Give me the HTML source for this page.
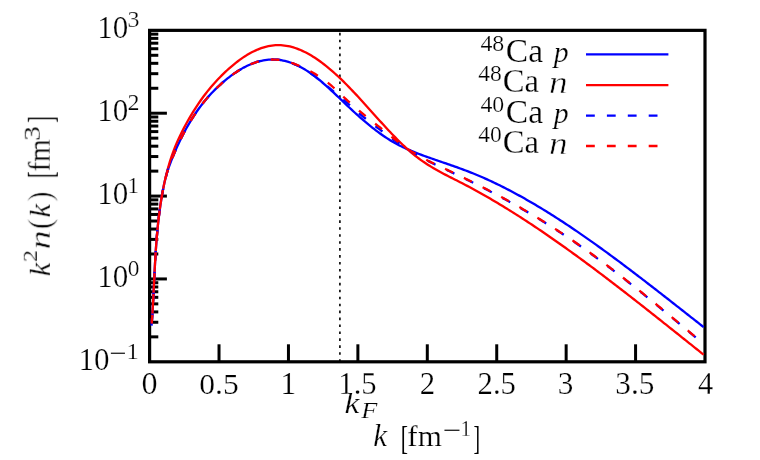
<!DOCTYPE html>
<html>
<head>
<meta charset="utf-8">
<title>k^2 n(k)</title>
<style>
  html, body { margin: 0; padding: 0; background: #ffffff; }
  body { width: 760px; height: 460px; overflow: hidden; font-family: "Liberation Serif", serif; }
  svg { display: block; }
  text { font-family: "Liberation Serif", serif; fill: #000000; stroke: #ffffff; stroke-linejoin: round; }
</style>
</head>
<body>
<svg width="760" height="460" viewBox="0 0 760 460">
<rect x="0" y="0" width="760" height="460" fill="#ffffff"/>
<!-- kF dotted line -->
<line x1="339.9" y1="361.8" x2="339.9" y2="30.35" stroke="#000000" stroke-width="1.6" stroke-dasharray="2.6 4.345"/>
<!-- ticks -->
<g stroke="#000000" stroke-width="3.0">
<line x1="149.6" y1="336.86" x2="158.29999999999998" y2="336.86"/>
<line x1="149.6" y1="322.26" x2="158.29999999999998" y2="322.26"/>
<line x1="149.6" y1="311.91" x2="158.29999999999998" y2="311.91"/>
<line x1="149.6" y1="303.88" x2="158.29999999999998" y2="303.88"/>
<line x1="149.6" y1="297.32" x2="158.29999999999998" y2="297.32"/>
<line x1="149.6" y1="291.77" x2="158.29999999999998" y2="291.77"/>
<line x1="149.6" y1="286.97" x2="158.29999999999998" y2="286.97"/>
<line x1="149.6" y1="282.73" x2="158.29999999999998" y2="282.73"/>
<line x1="149.6" y1="278.94" x2="166.9" y2="278.94"/>
<line x1="149.6" y1="253.99" x2="158.29999999999998" y2="253.99"/>
<line x1="149.6" y1="239.40" x2="158.29999999999998" y2="239.40"/>
<line x1="149.6" y1="229.05" x2="158.29999999999998" y2="229.05"/>
<line x1="149.6" y1="221.02" x2="158.29999999999998" y2="221.02"/>
<line x1="149.6" y1="214.46" x2="158.29999999999998" y2="214.46"/>
<line x1="149.6" y1="208.91" x2="158.29999999999998" y2="208.91"/>
<line x1="149.6" y1="204.11" x2="158.29999999999998" y2="204.11"/>
<line x1="149.6" y1="199.87" x2="158.29999999999998" y2="199.87"/>
<line x1="149.6" y1="196.08" x2="166.9" y2="196.08"/>
<line x1="149.6" y1="171.13" x2="158.29999999999998" y2="171.13"/>
<line x1="149.6" y1="156.54" x2="158.29999999999998" y2="156.54"/>
<line x1="149.6" y1="146.19" x2="158.29999999999998" y2="146.19"/>
<line x1="149.6" y1="138.16" x2="158.29999999999998" y2="138.16"/>
<line x1="149.6" y1="131.60" x2="158.29999999999998" y2="131.60"/>
<line x1="149.6" y1="126.05" x2="158.29999999999998" y2="126.05"/>
<line x1="149.6" y1="121.24" x2="158.29999999999998" y2="121.24"/>
<line x1="149.6" y1="117.00" x2="158.29999999999998" y2="117.00"/>
<line x1="149.6" y1="113.21" x2="166.9" y2="113.21"/>
<line x1="149.6" y1="88.27" x2="158.29999999999998" y2="88.27"/>
<line x1="149.6" y1="73.68" x2="158.29999999999998" y2="73.68"/>
<line x1="149.6" y1="63.32" x2="158.29999999999998" y2="63.32"/>
<line x1="149.6" y1="55.29" x2="158.29999999999998" y2="55.29"/>
<line x1="149.6" y1="48.73" x2="158.29999999999998" y2="48.73"/>
<line x1="149.6" y1="43.19" x2="158.29999999999998" y2="43.19"/>
<line x1="149.6" y1="38.38" x2="158.29999999999998" y2="38.38"/>
<line x1="149.6" y1="34.14" x2="158.29999999999998" y2="34.14"/>
<line x1="219.02" y1="361.8" x2="219.02" y2="344.3"/>
<line x1="288.45" y1="361.8" x2="288.45" y2="344.3"/>
<line x1="357.88" y1="361.8" x2="357.88" y2="344.3"/>
<line x1="427.30" y1="361.8" x2="427.30" y2="344.3"/>
<line x1="496.73" y1="361.8" x2="496.73" y2="344.3"/>
<line x1="566.15" y1="361.8" x2="566.15" y2="344.3"/>
<line x1="635.57" y1="361.8" x2="635.57" y2="344.3"/>
</g>
<!-- frame -->
<rect x="149.6" y="30.35" width="555.4" height="331.45" fill="none" stroke="#000000" stroke-width="3.2"/>
<!-- curves -->
<g fill="none" stroke-width="2.3" stroke-linejoin="round" stroke-linecap="butt">
<path stroke="#0000ff" d="M151.56,325.60 L151.76,322.93 L151.95,320.26 L152.13,317.59 L152.31,314.92 L152.48,312.24 L152.64,309.57 L152.79,306.90 L152.94,304.23 L153.09,301.56 L153.23,298.89 L153.37,296.22 L153.51,293.55 L153.64,290.87 L153.77,288.20 L153.90,285.53 L154.03,282.86 L154.16,280.19 L154.29,277.52 L154.42,274.85 L154.56,272.18 L154.70,269.51 L154.84,266.83 L154.98,264.16 L155.13,261.49 L155.28,258.82 L155.44,256.15 L155.61,253.48 L155.78,250.81 L155.96,248.14 L156.15,245.46 L156.35,242.79 L156.55,240.12 L156.77,237.45 L157.00,234.78 L157.23,232.11 L157.48,229.44 L157.75,226.77 L158.02,224.09 L158.31,221.42 L158.62,218.75 L158.93,216.08 L159.27,213.41 L159.62,210.74 L159.98,208.07 L160.37,205.40 L160.77,202.73 L161.19,200.05 L161.63,197.38 L162.09,194.71 L162.57,192.04 L163.07,189.37 L163.60,186.70 L164.15,184.03 L164.77,181.36 L165.43,178.68 L166.13,176.01 L166.87,173.34 L167.66,170.67 L168.48,168.00 L170.27,163.25 L172.06,158.68 L173.85,154.30 L175.64,150.09 L177.43,146.06 L179.22,142.19 L181.01,138.49 L182.80,134.95 L184.59,131.55 L186.38,128.27 L188.17,125.12 L189.96,122.08 L191.75,119.16 L193.54,116.34 L195.33,113.63 L197.12,111.02 L198.91,108.51 L200.70,106.10 L202.49,103.77 L204.28,101.53 L206.07,99.37 L207.86,97.29 L209.65,95.28 L211.44,93.34 L213.23,91.47 L215.02,89.66 L216.81,87.91 L218.60,86.21 L220.39,84.57 L222.18,82.97 L223.97,81.41 L225.76,79.91 L227.55,78.45 L229.34,77.05 L231.13,75.69 L232.92,74.38 L234.71,73.12 L236.50,71.92 L238.29,70.77 L240.08,69.66 L241.87,68.62 L243.66,67.62 L245.45,66.68 L247.24,65.80 L249.03,64.97 L250.82,64.19 L252.61,63.48 L254.40,62.82 L256.19,62.22 L257.98,61.68 L259.77,61.19 L261.56,60.77 L263.35,60.41 L265.14,60.11 L266.93,59.87 L268.72,59.69 L270.51,59.57 L272.30,59.52 L274.09,59.54 L275.88,59.61 L277.67,59.76 L279.46,59.96 L281.25,60.23 L283.04,60.57 L284.83,60.96 L286.62,61.42 L288.41,61.94 L290.20,62.52 L291.99,63.15 L293.78,63.85 L295.57,64.61 L297.36,65.43 L299.15,66.30 L300.94,67.23 L302.73,68.22 L304.52,69.26 L306.31,70.36 L308.10,71.51 L309.89,72.71 L311.68,73.97 L313.47,75.29 L315.26,76.64 L317.05,78.05 L318.84,79.49 L320.63,80.98 L322.42,82.50 L324.21,84.05 L326.00,85.63 L327.79,87.24 L329.58,88.88 L331.37,90.53 L333.16,92.20 L334.95,93.88 L336.75,95.58 L338.54,97.28 L340.33,98.99 L342.12,100.70 L343.91,102.41 L345.70,104.12 L347.49,105.81 L349.28,107.50 L351.07,109.18 L352.86,110.83 L354.65,112.48 L356.44,114.10 L358.23,115.71 L360.02,117.30 L361.81,118.86 L363.60,120.41 L365.39,121.93 L367.18,123.43 L368.97,124.91 L370.76,126.36 L372.55,127.79 L374.34,129.19 L376.13,130.56 L377.92,131.90 L379.71,133.22 L381.50,134.50 L383.29,135.75 L385.08,136.97 L386.87,138.16 L388.66,139.31 L390.45,140.42 L392.24,141.50 L394.03,142.55 L395.82,143.55 L397.61,144.52 L399.40,145.45 L401.19,146.34 L402.98,147.21 L404.77,148.04 L406.56,148.85 L408.35,149.63 L410.14,150.39 L411.93,151.14 L413.72,151.86 L415.51,152.57 L417.30,153.27 L419.09,153.96 L420.88,154.64 L422.67,155.30 L424.46,155.96 L426.25,156.61 L428.04,157.26 L429.83,157.89 L431.62,158.52 L433.41,159.15 L435.20,159.77 L436.99,160.39 L438.78,161.00 L440.57,161.62 L442.36,162.23 L444.15,162.84 L445.94,163.46 L447.73,164.07 L449.52,164.69 L451.31,165.31 L453.10,165.93 L454.89,166.56 L456.68,167.20 L458.47,167.84 L460.26,168.49 L462.05,169.14 L463.84,169.81 L465.63,170.48 L467.42,171.16 L469.21,171.86 L471.00,172.56 L472.79,173.28 L474.58,174.01 L476.37,174.75 L478.16,175.50 L479.95,176.26 L481.74,177.03 L483.53,177.82 L485.32,178.61 L487.11,179.42 L488.90,180.23 L490.69,181.06 L492.48,181.90 L494.27,182.74 L496.06,183.60 L497.85,184.47 L499.64,185.34 L501.43,186.23 L503.22,187.13 L505.01,188.03 L506.80,188.95 L508.59,189.87 L510.38,190.81 L512.17,191.75 L513.96,192.70 L515.75,193.67 L517.54,194.64 L519.33,195.62 L521.12,196.61 L522.91,197.61 L524.70,198.61 L526.49,199.63 L528.28,200.65 L530.07,201.68 L531.86,202.72 L533.65,203.77 L535.44,204.83 L537.23,205.90 L539.02,206.97 L540.81,208.05 L542.60,209.14 L544.39,210.23 L546.18,211.34 L547.97,212.45 L549.76,213.57 L551.55,214.69 L553.34,215.82 L555.13,216.96 L556.92,218.11 L558.71,219.27 L560.50,220.43 L562.29,221.59 L564.08,222.77 L565.87,223.95 L567.66,225.14 L569.45,226.33 L571.24,227.53 L573.03,228.73 L574.82,229.95 L576.61,231.16 L578.40,232.39 L580.19,233.62 L581.98,234.85 L583.77,236.09 L585.56,237.34 L587.35,238.59 L589.14,239.85 L590.93,241.11 L592.72,242.38 L594.51,243.65 L596.30,244.93 L598.09,246.21 L599.88,247.50 L601.67,248.79 L603.46,250.09 L605.25,251.39 L607.04,252.69 L608.83,254.00 L610.62,255.32 L612.41,256.63 L614.20,257.96 L615.99,259.28 L617.78,260.61 L619.57,261.95 L621.36,263.28 L623.15,264.62 L624.94,265.97 L626.73,267.32 L628.52,268.67 L630.31,270.02 L632.10,271.38 L633.89,272.74 L635.68,274.10 L637.47,275.47 L639.26,276.84 L641.05,278.21 L642.84,279.58 L644.63,280.96 L646.42,282.34 L648.21,283.72 L650.00,285.10 L651.79,286.49 L653.58,287.87 L655.37,289.26 L657.16,290.65 L658.95,292.04 L660.74,293.44 L662.53,294.83 L664.32,296.23 L666.11,297.63 L667.90,299.03 L669.69,300.43 L671.48,301.83 L673.27,303.23 L675.06,304.64 L676.85,306.04 L678.64,307.45 L680.43,308.85 L682.22,310.26 L684.01,311.67 L685.80,313.07 L687.59,314.48 L689.38,315.89 L691.17,317.30 L692.96,318.70 L694.75,320.11 L696.54,321.52 L698.33,322.92 L700.12,324.33 L701.91,325.73 L703.70,327.14"/>
<path stroke="#ff0000" d="M151.80,322.40 L151.98,319.78 L152.16,317.17 L152.33,314.55 L152.50,311.93 L152.65,309.32 L152.81,306.70 L152.95,304.08 L153.10,301.46 L153.23,298.85 L153.37,296.23 L153.50,293.61 L153.63,291.00 L153.76,288.38 L153.89,285.76 L154.02,283.15 L154.14,280.53 L154.27,277.91 L154.40,275.29 L154.53,272.68 L154.67,270.06 L154.80,267.44 L154.94,264.83 L155.09,262.21 L155.24,259.59 L155.39,256.98 L155.55,254.36 L155.72,251.74 L155.89,249.13 L156.07,246.51 L156.26,243.89 L156.46,241.27 L156.67,238.66 L156.89,236.04 L157.12,233.42 L157.35,230.81 L157.61,228.19 L157.87,225.57 L158.14,222.96 L158.43,220.34 L158.74,217.72 L159.05,215.11 L159.39,212.49 L159.74,209.87 L160.10,207.25 L160.48,204.64 L160.88,202.02 L161.30,199.40 L161.73,196.79 L162.19,194.17 L162.66,191.55 L163.16,188.94 L163.67,186.32 L164.21,183.70 L164.78,181.08 L165.37,178.47 L165.99,175.85 L166.63,173.23 L167.31,170.62 L168.01,168.00 L169.80,161.90 L171.59,156.35 L173.39,151.30 L175.18,146.68 L176.97,142.41 L178.76,138.44 L180.55,134.70 L182.34,131.11 L184.13,127.65 L185.93,124.29 L187.72,121.04 L189.51,117.89 L191.30,114.84 L193.09,111.89 L194.88,109.04 L196.68,106.27 L198.47,103.59 L200.26,101.00 L202.05,98.49 L203.84,96.05 L205.63,93.70 L207.43,91.41 L209.22,89.20 L211.01,87.05 L212.80,84.97 L214.59,82.95 L216.38,80.99 L218.18,79.08 L219.97,77.22 L221.76,75.41 L223.55,73.65 L225.34,71.94 L227.13,70.27 L228.92,68.64 L230.72,67.06 L232.51,65.53 L234.30,64.05 L236.09,62.62 L237.88,61.24 L239.67,59.91 L241.47,58.63 L243.26,57.40 L245.05,56.22 L246.84,55.10 L248.63,54.04 L250.42,53.03 L252.22,52.08 L254.01,51.18 L255.80,50.35 L257.59,49.57 L259.38,48.85 L261.17,48.19 L262.97,47.60 L264.76,47.06 L266.55,46.59 L268.34,46.19 L270.13,45.84 L271.92,45.57 L273.72,45.36 L275.51,45.21 L277.30,45.14 L279.09,45.13 L280.88,45.19 L282.67,45.32 L284.46,45.52 L286.26,45.78 L288.05,46.10 L289.84,46.49 L291.63,46.93 L293.42,47.44 L295.21,48.01 L297.01,48.63 L298.80,49.32 L300.59,50.06 L302.38,50.85 L304.17,51.70 L305.96,52.59 L307.76,53.55 L309.55,54.55 L311.34,55.60 L313.13,56.70 L314.92,57.84 L316.71,59.03 L318.51,60.27 L320.30,61.55 L322.09,62.88 L323.88,64.24 L325.67,65.65 L327.46,67.09 L329.25,68.57 L331.05,70.09 L332.84,71.65 L334.63,73.24 L336.42,74.87 L338.21,76.52 L340.00,78.21 L341.80,79.93 L343.59,81.68 L345.38,83.46 L347.17,85.26 L348.96,87.09 L350.75,88.95 L352.55,90.83 L354.34,92.73 L356.13,94.64 L357.92,96.58 L359.71,98.53 L361.50,100.49 L363.30,102.46 L365.09,104.45 L366.88,106.44 L368.67,108.43 L370.46,110.43 L372.25,112.43 L374.04,114.43 L375.84,116.43 L377.63,118.42 L379.42,120.41 L381.21,122.38 L383.00,124.35 L384.79,126.30 L386.59,128.24 L388.38,130.17 L390.17,132.07 L391.96,133.96 L393.75,135.82 L395.54,137.66 L397.34,139.47 L399.13,141.26 L400.92,143.02 L402.71,144.74 L404.50,146.43 L406.29,148.08 L408.09,149.70 L409.88,151.28 L411.67,152.81 L413.46,154.30 L415.25,155.75 L417.04,157.15 L418.83,158.50 L420.63,159.81 L422.42,161.08 L424.21,162.31 L426.00,163.51 L427.79,164.67 L429.58,165.79 L431.38,166.89 L433.17,167.96 L434.96,169.01 L436.75,170.03 L438.54,171.03 L440.33,172.01 L442.13,172.97 L443.92,173.92 L445.71,174.86 L447.50,175.78 L449.29,176.70 L451.08,177.61 L452.88,178.52 L454.67,179.43 L456.46,180.33 L458.25,181.24 L460.04,182.16 L461.83,183.08 L463.63,184.01 L465.42,184.94 L467.21,185.89 L469.00,186.84 L470.79,187.80 L472.58,188.77 L474.37,189.74 L476.17,190.72 L477.96,191.71 L479.75,192.71 L481.54,193.71 L483.33,194.73 L485.12,195.74 L486.92,196.77 L488.71,197.80 L490.50,198.84 L492.29,199.89 L494.08,200.95 L495.87,202.01 L497.67,203.07 L499.46,204.15 L501.25,205.23 L503.04,206.32 L504.83,207.41 L506.62,208.51 L508.42,209.62 L510.21,210.73 L512.00,211.85 L513.79,212.98 L515.58,214.11 L517.37,215.25 L519.16,216.39 L520.96,217.54 L522.75,218.70 L524.54,219.86 L526.33,221.03 L528.12,222.20 L529.91,223.38 L531.71,224.56 L533.50,225.75 L535.29,226.95 L537.08,228.15 L538.87,229.35 L540.66,230.57 L542.46,231.78 L544.25,233.00 L546.04,234.23 L547.83,235.46 L549.62,236.70 L551.41,237.94 L553.21,239.19 L555.00,240.44 L556.79,241.69 L558.58,242.95 L560.37,244.22 L562.16,245.49 L563.95,246.76 L565.75,248.04 L567.54,249.32 L569.33,250.61 L571.12,251.90 L572.91,253.20 L574.70,254.50 L576.50,255.80 L578.29,257.11 L580.08,258.42 L581.87,259.73 L583.66,261.05 L585.45,262.38 L587.25,263.70 L589.04,265.03 L590.83,266.36 L592.62,267.70 L594.41,269.04 L596.20,270.38 L598.00,271.73 L599.79,273.08 L601.58,274.43 L603.37,275.79 L605.16,277.15 L606.95,278.51 L608.74,279.88 L610.54,281.24 L612.33,282.62 L614.12,283.99 L615.91,285.36 L617.70,286.74 L619.49,288.12 L621.29,289.51 L623.08,290.89 L624.87,292.28 L626.66,293.67 L628.45,295.07 L630.24,296.46 L632.04,297.86 L633.83,299.26 L635.62,300.66 L637.41,302.06 L639.20,303.46 L640.99,304.87 L642.79,306.28 L644.58,307.69 L646.37,309.10 L648.16,310.51 L649.95,311.93 L651.74,313.34 L653.54,314.76 L655.33,316.18 L657.12,317.60 L658.91,319.02 L660.70,320.44 L662.49,321.86 L664.28,323.29 L666.08,324.71 L667.87,326.14 L669.66,327.56 L671.45,328.99 L673.24,330.42 L675.03,331.84 L676.83,333.27 L678.62,334.70 L680.41,336.13 L682.20,337.56 L683.99,338.99 L685.78,340.42 L687.58,341.85 L689.37,343.28 L691.16,344.71 L692.95,346.14 L694.74,347.57 L696.53,349.00 L698.33,350.43 L700.12,351.86 L701.91,353.29 L703.70,354.72"/>
<path stroke="#0000ff" stroke-dasharray="8.8 12.1" stroke-dashoffset="19.65" d="M151.71,323.60 L151.90,320.96 L152.08,318.33 L152.26,315.69 L152.43,313.05 L152.59,310.41 L152.74,307.78 L152.89,305.14 L153.04,302.50 L153.18,299.86 L153.32,297.23 L153.45,294.59 L153.59,291.95 L153.72,289.32 L153.85,286.68 L153.97,284.04 L154.10,281.40 L154.23,278.77 L154.36,276.13 L154.49,273.49 L154.63,270.85 L154.76,268.22 L154.90,265.58 L155.05,262.94 L155.20,260.31 L155.35,257.67 L155.51,255.03 L155.68,252.39 L155.85,249.76 L156.03,247.12 L156.22,244.48 L156.42,241.84 L156.63,239.21 L156.84,236.57 L157.07,233.93 L157.31,231.29 L157.56,228.66 L157.82,226.02 L158.10,223.38 L158.39,220.75 L158.69,218.11 L159.01,215.47 L159.34,212.83 L159.69,210.20 L160.06,207.56 L160.44,204.92 L160.84,202.28 L161.26,199.65 L161.70,197.01 L162.15,194.37 L162.63,191.74 L163.13,189.10 L163.65,186.46 L164.20,183.82 L164.81,181.19 L165.46,178.55 L166.16,175.91 L166.89,173.27 L167.67,170.64 L168.48,168.00 L170.27,163.25 L172.06,158.68 L173.85,154.30 L175.64,150.09 L177.43,146.06 L179.22,142.19 L181.01,138.49 L182.80,134.95 L184.59,131.55 L186.38,128.27 L188.17,125.12 L189.96,122.08 L191.75,119.16 L193.54,116.34 L195.33,113.63 L197.12,111.02 L198.91,108.51 L200.70,106.10 L202.49,103.77 L204.28,101.53 L206.07,99.37 L207.86,97.29 L209.65,95.28 L211.44,93.34 L213.23,91.47 L215.02,89.66 L216.81,87.91 L218.60,86.21 L220.39,84.57 L222.18,82.97 L223.97,81.41 L225.76,79.91 L227.55,78.45 L229.34,77.05 L231.13,75.69 L232.92,74.38 L234.71,73.12 L236.50,71.92 L238.29,70.77 L240.08,69.66 L241.87,68.62 L243.66,67.62 L245.45,66.68 L247.24,65.80 L249.03,64.97 L250.82,64.19 L252.61,63.48 L254.40,62.82 L256.19,62.22 L257.98,61.68 L259.77,61.19 L261.56,60.77 L263.35,60.41 L265.14,60.11 L266.93,59.87 L268.72,59.69 L270.51,59.57 L272.30,59.52 L274.09,59.54 L275.88,59.61 L277.67,59.76 L279.46,59.96 L281.25,60.23 L283.04,60.57 L284.83,60.96 L286.62,61.42 L288.41,61.94 L290.20,62.52 L291.99,63.15 L293.78,63.85 L295.57,64.61 L297.36,65.43 L299.15,66.30 L300.94,67.23 L302.73,68.22 L304.52,69.26 L306.31,70.36 L308.10,71.51 L309.89,72.71 L311.68,73.97 L313.47,75.29 L315.26,76.64 L317.05,78.05 L318.84,79.49 L320.63,80.97 L322.42,82.44 L324.21,83.89 L326.00,85.33 L327.79,86.77 L329.58,88.22 L331.37,89.69 L333.16,91.18 L334.95,92.68 L336.75,94.16 L338.54,95.63 L340.33,97.10 L342.12,98.59 L343.91,100.09 L345.70,101.62 L347.49,103.18 L349.28,104.76 L351.07,106.34 L352.86,107.90 L354.65,109.47 L356.44,111.02 L358.23,112.55 L360.02,114.07 L361.81,115.57 L363.60,117.05 L365.39,118.50 L367.18,119.92 L368.97,121.33 L370.76,122.71 L372.55,124.08 L374.34,125.43 L376.13,126.77 L377.92,128.10 L379.71,129.44 L381.50,130.79 L383.29,132.16 L385.08,133.52 L386.87,134.87 L388.66,136.21 L390.45,137.53 L392.24,138.81 L394.03,140.05 L395.82,141.27 L397.61,142.48 L399.40,143.68 L401.19,144.86 L402.98,146.04 L404.77,147.20 L406.56,148.35 L408.35,149.52 L410.14,150.69 L411.93,151.87 L413.72,152.88 L415.51,153.80 L417.30,154.76 L419.09,155.74 L420.88,156.77 L422.67,157.84 L424.46,158.95 L426.25,160.12 L428.04,161.04 L429.83,161.89 L431.62,162.74 L433.41,163.59 L435.20,164.44 L436.99,165.29 L438.78,166.14 L440.57,166.99 L442.36,167.84 L444.15,168.69 L445.94,169.54 L447.73,170.40 L449.52,171.25 L451.31,172.11 L453.10,172.97 L454.89,173.83 L456.68,174.69 L458.47,175.55 L460.26,176.42 L462.05,177.29 L463.84,178.16 L465.63,179.04 L467.42,179.91 L469.21,180.79 L471.00,181.68 L472.79,182.57 L474.58,183.46 L476.37,184.35 L478.16,185.25 L479.95,186.16 L481.74,187.07 L483.53,187.98 L485.32,188.90 L487.11,189.82 L488.90,190.75 L490.69,191.68 L492.48,192.62 L494.27,193.57 L496.06,194.52 L497.85,195.47 L499.64,196.43 L501.43,197.40 L503.22,198.37 L505.01,199.34 L506.80,200.33 L508.59,201.32 L510.38,202.31 L512.17,203.31 L513.96,204.31 L515.75,205.33 L517.54,206.34 L519.33,207.37 L521.12,208.40 L522.91,209.43 L524.70,210.47 L526.49,211.52 L528.28,212.57 L530.07,213.63 L531.86,214.70 L533.65,215.77 L535.44,216.85 L537.23,217.94 L539.02,219.03 L540.81,220.13 L542.60,221.23 L544.39,222.34 L546.18,223.46 L547.97,224.59 L549.76,225.72 L551.55,226.86 L553.34,228.00 L555.13,229.15 L556.92,230.31 L558.71,231.48 L560.50,232.65 L562.29,233.83 L564.08,235.02 L565.87,236.22 L567.66,237.42 L569.45,238.63 L571.24,239.84 L573.03,241.07 L574.82,242.30 L576.61,243.54 L578.40,244.79 L580.19,246.04 L581.98,247.30 L583.77,248.57 L585.56,249.84 L587.35,251.13 L589.14,252.42 L590.93,253.71 L592.72,255.01 L594.51,256.32 L596.30,257.64 L598.09,258.96 L599.88,260.29 L601.67,261.62 L603.46,262.96 L605.25,264.31 L607.04,265.66 L608.83,267.02 L610.62,268.38 L612.41,269.75 L614.20,271.12 L615.99,272.50 L617.78,273.88 L619.57,275.27 L621.36,276.66 L623.15,278.06 L624.94,279.46 L626.73,280.87 L628.52,282.28 L630.31,283.70 L632.10,285.12 L633.89,286.54 L635.68,287.97 L637.47,289.40 L639.26,290.83 L641.05,292.27 L642.84,293.72 L644.63,295.16 L646.42,296.61 L648.21,298.06 L650.00,299.52 L651.79,300.98 L653.58,302.44 L655.37,303.90 L657.16,305.37 L658.95,306.84 L660.74,308.31 L662.53,309.78 L664.32,311.26 L666.11,312.73 L667.90,314.21 L669.69,315.70 L671.48,317.18 L673.27,318.66 L675.06,320.15 L676.85,321.64 L678.64,323.13 L680.43,324.62 L682.22,326.11 L684.01,327.60 L685.80,329.09 L687.59,330.58 L689.38,332.08 L691.17,333.57 L692.96,335.07 L694.75,336.56 L696.54,338.06 L698.33,339.55 L700.12,341.05 L701.91,342.54 L703.70,344.04"/>
<path stroke="#ff0000" stroke-dasharray="8.8 12.1" stroke-dashoffset="0.05" d="M151.71,323.60 L151.90,320.96 L152.08,318.33 L152.26,315.69 L152.43,313.05 L152.59,310.41 L152.74,307.78 L152.89,305.14 L153.04,302.50 L153.18,299.86 L153.32,297.23 L153.45,294.59 L153.59,291.95 L153.72,289.32 L153.85,286.68 L153.97,284.04 L154.10,281.40 L154.23,278.77 L154.36,276.13 L154.49,273.49 L154.63,270.85 L154.76,268.22 L154.90,265.58 L155.05,262.94 L155.20,260.31 L155.35,257.67 L155.51,255.03 L155.68,252.39 L155.85,249.76 L156.03,247.12 L156.22,244.48 L156.42,241.84 L156.63,239.21 L156.84,236.57 L157.07,233.93 L157.31,231.29 L157.56,228.66 L157.82,226.02 L158.10,223.38 L158.39,220.75 L158.69,218.11 L159.01,215.47 L159.34,212.83 L159.69,210.20 L160.06,207.56 L160.44,204.92 L160.84,202.28 L161.26,199.65 L161.70,197.01 L162.15,194.37 L162.63,191.74 L163.13,189.10 L163.65,186.46 L164.20,183.82 L164.81,181.19 L165.46,178.55 L166.16,175.91 L166.89,173.27 L167.67,170.64 L168.48,168.00 L170.27,163.25 L172.06,158.68 L173.85,154.30 L175.64,150.09 L177.43,146.06 L179.22,142.19 L181.01,138.49 L182.80,134.95 L184.59,131.55 L186.38,128.27 L188.17,125.12 L189.96,122.08 L191.75,119.16 L193.54,116.34 L195.33,113.63 L197.12,111.02 L198.91,108.51 L200.70,106.10 L202.49,103.77 L204.28,101.53 L206.07,99.37 L207.86,97.29 L209.65,95.28 L211.44,93.34 L213.23,91.47 L215.02,89.66 L216.81,87.91 L218.60,86.21 L220.39,84.57 L222.18,82.97 L223.97,81.41 L225.76,79.91 L227.55,78.45 L229.34,77.05 L231.13,75.69 L232.92,74.38 L234.71,73.12 L236.50,71.92 L238.29,70.77 L240.08,69.66 L241.87,68.62 L243.66,67.62 L245.45,66.68 L247.24,65.80 L249.03,64.97 L250.82,64.19 L252.61,63.48 L254.40,62.82 L256.19,62.22 L257.98,61.68 L259.77,61.19 L261.56,60.77 L263.35,60.41 L265.14,60.11 L266.93,59.87 L268.72,59.69 L270.51,59.57 L272.30,59.52 L274.09,59.54 L275.88,59.61 L277.67,59.76 L279.46,59.96 L281.25,60.23 L283.04,60.57 L284.83,60.96 L286.62,61.41 L288.41,61.90 L290.20,62.43 L291.99,63.01 L293.78,63.64 L295.57,64.33 L297.36,65.06 L299.15,65.80 L300.94,66.56 L302.73,67.35 L304.52,68.17 L306.31,69.03 L308.10,69.93 L309.89,70.88 L311.68,71.88 L313.47,72.95 L315.26,74.07 L317.05,75.21 L318.84,76.35 L320.63,77.52 L322.42,78.72 L324.21,79.97 L326.00,81.27 L327.79,82.65 L329.58,84.10 L331.37,85.64 L333.16,87.25 L334.95,88.89 L336.75,90.55 L338.54,92.23 L340.33,93.91 L342.12,95.60 L343.91,97.28 L345.70,98.95 L347.49,100.60 L349.28,102.22 L351.07,103.81 L352.86,105.37 L354.65,106.90 L356.44,108.43 L358.23,109.94 L360.02,111.45 L361.81,112.97 L363.60,114.48 L365.39,115.97 L367.18,117.44 L368.97,118.89 L370.76,120.31 L372.55,121.72 L374.34,123.10 L376.13,124.46 L377.92,125.80 L379.71,127.16 L381.50,128.57 L383.29,130.03 L385.08,131.51 L386.87,133.00 L388.66,134.48 L390.45,135.94 L392.24,137.37 L394.03,138.75 L395.82,140.11 L397.61,141.47 L399.40,142.82 L401.19,144.16 L402.98,145.49 L404.77,146.78 L406.56,148.05 L408.35,149.32 L410.14,150.58 L411.93,151.84 L413.72,152.85 L415.51,153.74 L417.30,154.65 L419.09,155.60 L420.88,156.59 L422.67,157.62 L424.46,158.70 L426.25,159.83 L428.04,160.74 L429.83,161.59 L431.62,162.44 L433.41,163.29 L435.20,164.14 L436.99,164.99 L438.78,165.84 L440.57,166.69 L442.36,167.54 L444.15,168.39 L445.94,169.24 L447.73,170.10 L449.52,170.95 L451.31,171.81 L453.10,172.67 L454.89,173.53 L456.68,174.39 L458.47,175.25 L460.26,176.12 L462.05,176.99 L463.84,177.86 L465.63,178.74 L467.42,179.61 L469.21,180.49 L471.00,181.38 L472.79,182.27 L474.58,183.16 L476.37,184.05 L478.16,184.95 L479.95,185.86 L481.74,186.77 L483.53,187.68 L485.32,188.60 L487.11,189.52 L488.90,190.45 L490.69,191.38 L492.48,192.32 L494.27,193.27 L496.06,194.22 L497.85,195.17 L499.64,196.13 L501.43,197.10 L503.22,198.07 L505.01,199.04 L506.80,200.03 L508.59,201.02 L510.38,202.01 L512.17,203.01 L513.96,204.01 L515.75,205.03 L517.54,206.04 L519.33,207.07 L521.12,208.10 L522.91,209.13 L524.70,210.17 L526.49,211.22 L528.28,212.27 L530.07,213.33 L531.86,214.40 L533.65,215.47 L535.44,216.55 L537.23,217.64 L539.02,218.73 L540.81,219.83 L542.60,220.93 L544.39,222.04 L546.18,223.16 L547.97,224.29 L549.76,225.42 L551.55,226.56 L553.34,227.70 L555.13,228.85 L556.92,230.01 L558.71,231.18 L560.50,232.35 L562.29,233.53 L564.08,234.72 L565.87,235.92 L567.66,237.12 L569.45,238.33 L571.24,239.54 L573.03,240.77 L574.82,242.00 L576.61,243.24 L578.40,244.49 L580.19,245.74 L581.98,247.00 L583.77,248.27 L585.56,249.54 L587.35,250.83 L589.14,252.12 L590.93,253.41 L592.72,254.71 L594.51,256.02 L596.30,257.34 L598.09,258.66 L599.88,259.99 L601.67,261.32 L603.46,262.66 L605.25,264.01 L607.04,265.36 L608.83,266.72 L610.62,268.08 L612.41,269.45 L614.20,270.82 L615.99,272.20 L617.78,273.58 L619.57,274.97 L621.36,276.36 L623.15,277.76 L624.94,279.16 L626.73,280.57 L628.52,281.98 L630.31,283.40 L632.10,284.82 L633.89,286.24 L635.68,287.67 L637.47,289.10 L639.26,290.53 L641.05,291.97 L642.84,293.42 L644.63,294.86 L646.42,296.31 L648.21,297.76 L650.00,299.22 L651.79,300.68 L653.58,302.14 L655.37,303.60 L657.16,305.07 L658.95,306.54 L660.74,308.01 L662.53,309.48 L664.32,310.96 L666.11,312.43 L667.90,313.91 L669.69,315.40 L671.48,316.88 L673.27,318.36 L675.06,319.85 L676.85,321.34 L678.64,322.83 L680.43,324.32 L682.22,325.81 L684.01,327.30 L685.80,328.79 L687.59,330.28 L689.38,331.78 L691.17,333.27 L692.96,334.77 L694.75,336.26 L696.54,337.76 L698.33,339.25 L700.12,340.75 L701.91,342.24 L703.70,343.74"/>
</g>
<!-- legend lines -->
<line x1="586" y1="54.3" x2="668.4" y2="54.3" stroke="#0000ff" stroke-width="2.3"/>
<line x1="586" y1="85.1" x2="668.4" y2="85.1" stroke="#ff0000" stroke-width="2.3"/>
<line x1="586" y1="115.7" x2="668.4" y2="115.7" stroke="#0000ff" stroke-width="2.3" stroke-dasharray="8.8 12.1"/>
<line x1="586" y1="146.0" x2="668.4" y2="146.0" stroke="#ff0000" stroke-width="2.3" stroke-dasharray="8.8 12.1"/>
<!-- labels -->
<g opacity="0.999">
<text transform="matrix(0.3103 0 0 0.3081 97.21 38.24)" font-size="100" stroke-width="0.81">10</text>
<text transform="matrix(0.2390 0 0 0.2269 127.40 27.12)" font-size="100" stroke-width="1.07">3</text>
<text transform="matrix(0.3103 0 0 0.3081 97.21 121.10)" font-size="100" stroke-width="0.81">10</text>
<text transform="matrix(0.2400 0 0 0.2212 127.62 109.81)" font-size="100" stroke-width="1.08">2</text>
<text transform="matrix(0.3103 0 0 0.3081 97.21 203.97)" font-size="100" stroke-width="0.81">10</text>
<text transform="matrix(0.2286 0 0 0.2290 127.54 192.98)" font-size="100" stroke-width="1.09">1</text>
<text transform="matrix(0.3103 0 0 0.3081 97.21 286.83)" font-size="100" stroke-width="0.81">10</text>
<text transform="matrix(0.2333 0 0 0.2252 127.67 275.71)" font-size="100" stroke-width="1.09">0</text>
<text transform="matrix(0.3103 0 0 0.3081 78.61 369.59)" font-size="100" stroke-width="0.81">10</text>
<text transform="matrix(0.3032 0 0 0.2400 109.48 360.62)" font-size="100" stroke-width="0.00">−</text>
<text transform="matrix(0.2457 0 0 0.2305 126.59 359.00)" font-size="100" stroke-width="1.05">1</text>
<text transform="matrix(0.3214 0 0 0.3067 141.51 394.09)" font-size="100" stroke-width="0.80">0</text>
<text transform="matrix(0.3162 0 0 0.3044 199.24 393.94)" font-size="100" stroke-width="0.81">0.5</text>
<text transform="matrix(0.3200 0 0 0.3099 280.22 394.00)" font-size="100" stroke-width="0.79">1</text>
<text transform="matrix(0.3062 0 0 0.3090 338.34 393.94)" font-size="100" stroke-width="0.81">1.5</text>
<text transform="matrix(0.3075 0 0 0.3076 419.82 394.00)" font-size="100" stroke-width="0.81">2</text>
<text transform="matrix(0.3073 0 0 0.3067 477.52 393.94)" font-size="100" stroke-width="0.81">2.5</text>
<text transform="matrix(0.3122 0 0 0.3090 557.84 394.09)" font-size="100" stroke-width="0.80">3</text>
<text transform="matrix(0.3129 0 0 0.3067 615.24 393.94)" font-size="100" stroke-width="0.81">3.5</text>
<text transform="matrix(0.3032 0 0 0.3123 697.89 394.16)" font-size="100" stroke-width="0.81">4</text>
<text transform="matrix(0.3349 0 0 0.2899 344.40 413.30)" font-size="100" stroke-width="0.80" font-style="italic">k</text>
<text transform="matrix(0.2640 0 0 0.2262 361.23 418.11)" font-size="100" stroke-width="1.02" font-style="italic">F</text>
<text transform="matrix(0.3116 0 0 0.3058 373.37 445.80)" font-size="100" stroke-width="0.81" font-style="italic">k</text>
<text transform="matrix(0.2182 0 0 0.3370 400.76 449.05)" font-size="100" stroke-width="0.00">[</text>
<text transform="matrix(0.3108 0 0 0.3000 407.37 445.70)" font-size="100" stroke-width="0.82">fm</text>
<text transform="matrix(0.3226 0 0 0.2400 442.99 438.32)" font-size="100" stroke-width="0.00">−</text>
<text transform="matrix(0.2114 0 0 0.2366 460.50 436.20)" font-size="100" stroke-width="1.12">1</text>
<text transform="matrix(0.1956 0 0 0.3370 473.42 449.05)" font-size="100" stroke-width="0.00">]</text>
<g transform="translate(49.8,275.2) rotate(-90)">
<text transform="matrix(0.3023 0 0 0.3000 -0.91 0.00)" font-size="100" stroke-width="0.83" font-style="italic">k</text>
<text transform="matrix(0.2450 0 0 0.1970 13.00 -13.10)" font-size="100" stroke-width="1.13">2</text>
<text transform="matrix(0.3835 0 0 0.3032 25.86 0.15)" font-size="100" stroke-width="1.60" font-style="italic">n</text>
<text transform="matrix(0.3373 0 0 0.3378 45.78 0.51)" font-size="100" stroke-width="2.07">(</text>
<text transform="matrix(0.3023 0 0 0.3000 57.79 0.00)" font-size="100" stroke-width="0.83" font-style="italic">k</text>
<text transform="matrix(0.3077 0 0 0.3378 73.38 0.51)" font-size="100" stroke-width="2.17">)</text>
<text transform="matrix(0.1955 0 0 0.3636 97.23 2.99)" font-size="100" stroke-width="0.00">[</text>
<text transform="matrix(0.2911 0 0 0.3157 103.63 0.00)" font-size="100" stroke-width="0.82">fm</text>
<text transform="matrix(0.2976 0 0 0.2328 134.31 -9.63)" font-size="100" stroke-width="0.94">3</text>
<text transform="matrix(0.1911 0 0 0.3636 152.43 2.99)" font-size="100" stroke-width="0.00">]</text>
</g>
<text transform="matrix(0.2383 0 0 0.2252 480.42 50.97)" font-size="100" stroke-width="1.08">48</text>
<text transform="matrix(0.3358 0 0 0.3313 505.86 62.07)" font-size="100" stroke-width="0.75">Ca</text>
<text transform="matrix(0.2981 0 0 0.2926 553.79 62.15)" font-size="100" stroke-width="0.85" font-style="italic">p</text>
<text transform="matrix(0.2351 0 0 0.2252 478.23 81.37)" font-size="100" stroke-width="1.09">48</text>
<text transform="matrix(0.3264 0 0 0.3313 502.69 92.47)" font-size="100" stroke-width="0.76">Ca</text>
<text transform="matrix(0.3741 0 0 0.3054 548.99 92.85)" font-size="100" stroke-width="1.62" font-style="italic">n</text>
<text transform="matrix(0.2383 0 0 0.2252 480.42 111.77)" font-size="100" stroke-width="1.08">40</text>
<text transform="matrix(0.3358 0 0 0.3313 505.86 122.87)" font-size="100" stroke-width="0.75">Ca</text>
<text transform="matrix(0.2981 0 0 0.2926 553.79 122.95)" font-size="100" stroke-width="0.85" font-style="italic">p</text>
<text transform="matrix(0.2351 0 0 0.2252 478.23 142.17)" font-size="100" stroke-width="1.09">40</text>
<text transform="matrix(0.3264 0 0 0.3313 502.69 153.27)" font-size="100" stroke-width="0.76">Ca</text>
<text transform="matrix(0.3741 0 0 0.3054 548.99 153.65)" font-size="100" stroke-width="1.62" font-style="italic">n</text>
</g>
</svg>
</body>
</html>
